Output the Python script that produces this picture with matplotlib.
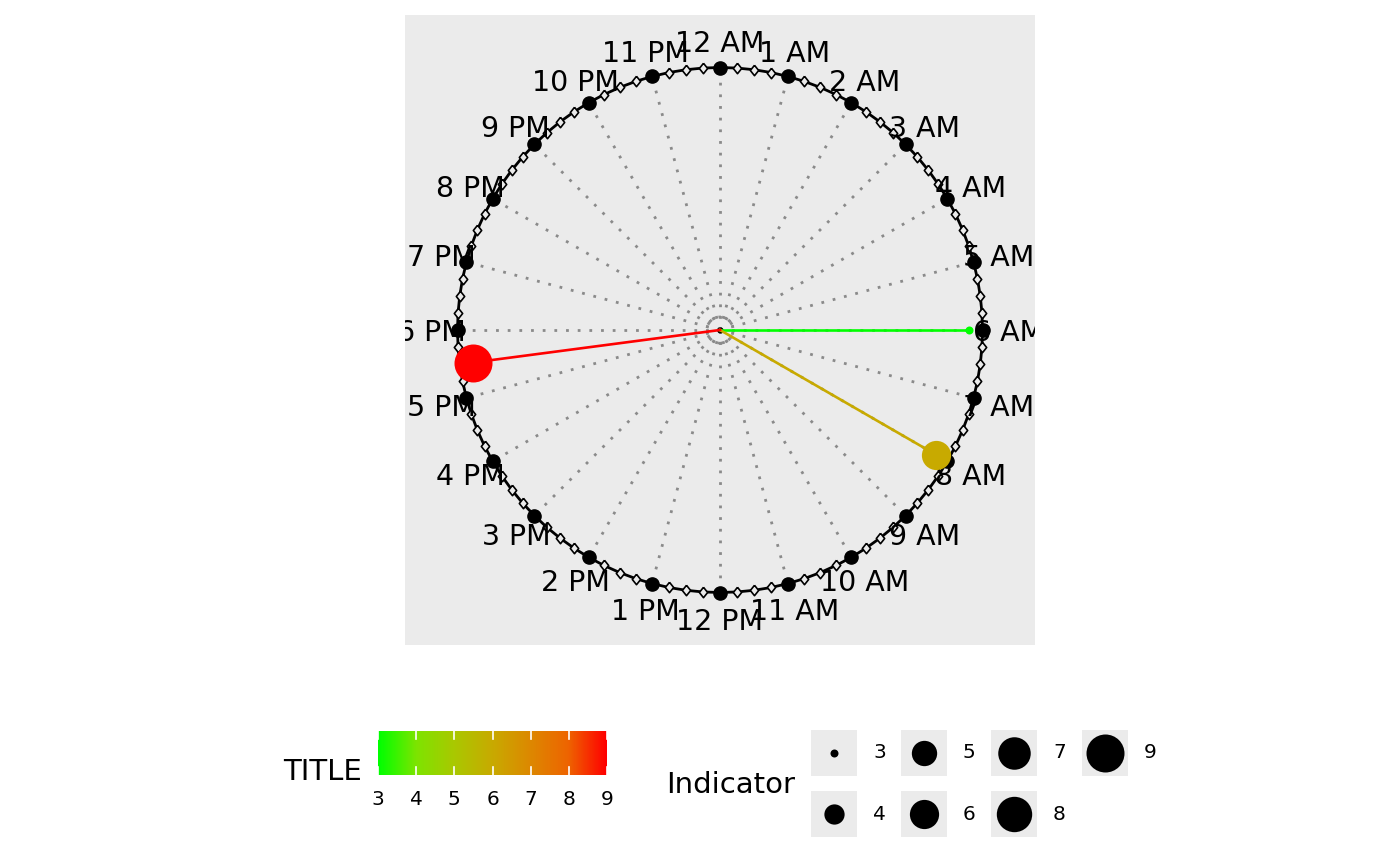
import matplotlib
matplotlib.use('Agg')
import matplotlib.pyplot as plt
import numpy as np
from matplotlib.colors import LinearSegmentedColormap
from matplotlib.patches import Rectangle, Circle

# data
event_hours = [6.0, 8.0, 17.5]      # position on the 24h clock
event_values = [3, 6, 9]            # mapped to colour and size
event_radius = 0.95
hour_labels = ['12 AM', '1 AM', '2 AM', '3 AM', '4 AM', '5 AM', '6 AM', '7 AM',
               '8 AM', '9 AM', '10 AM', '11 AM', '12 PM', '1 PM', '2 PM', '3 PM',
               '4 PM', '5 PM', '6 PM', '7 PM', '8 PM', '9 PM', '10 PM', '11 PM']
legend_values = [3, 4, 5, 6, 7, 8, 9]
colour_stops = ['#00ff00', '#7ee400', '#aac800', '#c8aa00', '#dd8800', '#ee6400', '#ff0000']

cmap = LinearSegmentedColormap.from_list('gr', colour_stops)
vmin, vmax = 3, 9
PANEL = '#ebebeb'
DIAMOND = [(0, 1), (0.8, 0), (0, -1), (-0.8, 0), (0, 1)]


def to_xy(hour, r):
    """12 AM on top, running clockwise."""
    ang = np.asarray(hour) / 24.0 * 2 * np.pi
    return r * np.sin(ang), r * np.cos(ang)


def size_pt(v):
    """ggplot-like area scale: diameter 8..38 px."""
    d = 8 + 30 * np.sqrt((np.asarray(v, float) - vmin) / (vmax - vmin))
    return d * 0.72


fig = plt.figure(figsize=(14, 8.66), dpi=100)
ax = fig.add_axes([405 / 1400, 1 - 645 / 866, 630 / 1400, 630 / 866])
ax.set_facecolor(PANEL)
ax.set_xlim(-1.2, 1.2)
ax.set_ylim(-1.2, 1.2)
for s in ax.spines.values():
    s.set_visible(False)
ax.set_xticks([])
ax.set_yticks([])

hours = np.arange(24)
hx, hy = to_xy(hours, 1.0)

# dotted spokes and small inner ring
for x, y in zip(hx, hy):
    ax.plot([0, x], [0, y], color='#8a8a8a', lw=2.0, ls=(0, (1, 3.2)), zorder=1)
ax.add_patch(Circle((0, 0), 0.05, fill=False, ec='#8a8a8a', lw=1.8, ls=(0, (1, 1.3)), zorder=1))

# clock rim: quarter-hour diamonds + hour dots
quarters = np.arange(0, 24.01, 0.25)
qx, qy = to_xy(quarters, 1.0)
ax.plot(qx, qy, color='black', lw=2.0, zorder=2)
ax.plot(qx[:-1], qy[:-1], ls='none', marker=DIAMOND, ms=7.5, mfc=PANEL, mec='black', mew=1.2, zorder=3)
ax.plot(hx, hy, ls='none', marker='o', ms=9.5, color='black', zorder=4)

lx, ly = to_xy(hours, 1.1)
for x, y, lab in zip(lx, ly, hour_labels):
    ax.text(x, y - 0.011, lab, ha='center', va='center', fontsize=20.5, zorder=5, clip_on=True)

ax.plot([0], [0], marker='o', ms=3.5, color='black', zorder=4)

# events
ex, ey = to_xy(event_hours, event_radius)
for x, y, v in zip(ex, ey, event_values):
    col = cmap((v - vmin) / (vmax - vmin))
    ax.plot([0, x], [0, y], color=col, lw=1.9, zorder=6)
    ax.plot([x], [y], marker='o', ms=size_pt(v), color=col, mec='none', zorder=7)

# colour legend
cax = fig.add_axes([378 / 1400, 1 - 775 / 866, 229 / 1400, 44 / 866])
cax.imshow(np.linspace(vmin, vmax, 300)[None, :], extent=[vmin, vmax, 0, 1],
           aspect='auto', cmap=cmap, vmin=vmin, vmax=vmax)
cax.set_xlim(vmin, vmax)
cax.set_ylim(0, 1)
for s in cax.spines.values():
    s.set_visible(False)
cax.set_yticks([])
cax.set_xticks(legend_values)
cax.tick_params(axis='x', length=0, labelsize=14.5, pad=11)
for v in legend_values:
    cax.plot([v, v], [0, 0.18], color='white', lw=1.2)
    cax.plot([v, v], [0.82, 1], color='white', lw=1.2)
fig.text(362 / 1400, 1 - 772 / 866, 'TITLE', ha='right', va='center', fontsize=21)

# size legend, drawn on an overlay in pixel units
lax = fig.add_axes([0, 0, 1, 1])
lax.set_xlim(0, 1400)
lax.set_ylim(866, 0)
lax.axis('off')
lax.text(795, 785, 'Indicator', ha='right', va='center', fontsize=21)
col_x = [811, 901, 991, 1082]
row_y = [730, 791]
for i, v in enumerate(legend_values):
    x0 = col_x[i // 2]
    y0 = row_y[i % 2]
    lax.add_patch(Rectangle((x0, y0), 46, 46, color=PANEL, lw=0))
    lax.plot([x0 + 23], [y0 + 23], marker='o', ms=size_pt(v), color='black', mec='none')
    lax.text(x0 + 62, y0 + 23, str(v), ha='left', va='center', fontsize=14.5)

fig.savefig('out.png', dpi=100)
plt.close(fig)
